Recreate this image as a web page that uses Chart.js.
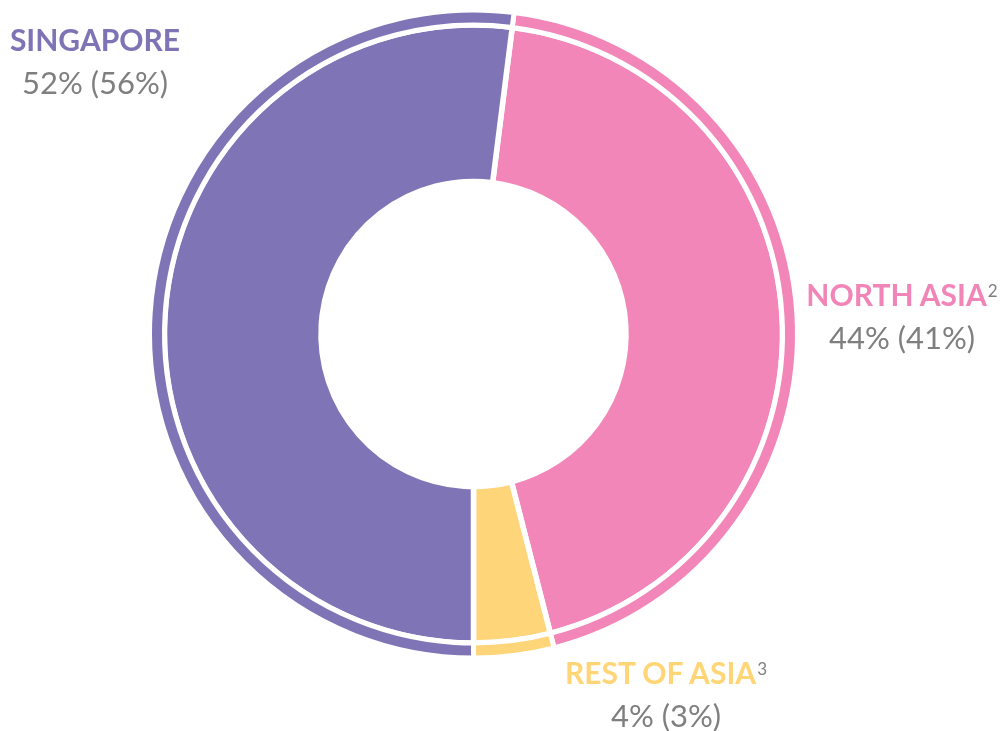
<!DOCTYPE html>
<html>
<head>
<meta charset="utf-8">
<script src="https://cdn.jsdelivr.net/npm/chart.js@4.4.1/dist/chart.umd.min.js"></script>
<style>
  body { margin: 0; background: #fff; }
  #wrap { position: relative; width: 1006px; height: 731px; }
  canvas { position: absolute; left: 0; top: 0; }
  .lbl { position: absolute; text-align: center; font-family: Lato, "Open Sans", sans-serif; white-space: nowrap; }
  .lbl .name { font-weight: 700; font-size: 30px; line-height: 43px; }
  .lbl .val { color: #7f7f7f; font-size: 31px; line-height: 43px; }
  .lbl sup { font-weight: 400; font-size: 17px; color: #7f7f7f; vertical-align: 9px; line-height: 0; margin-left: 1px; }
</style>
</head>
<body>
<div id="wrap">
  <canvas id="c" width="1006" height="731"></canvas>
  <div class="lbl" style="left:-5px; top:18px; width:200px;">
    <div class="name" style="color:#7e73b5;">SINGAPORE</div>
    <div class="val">52% (56%)</div>
  </div>
  <div class="lbl" style="left:802px; top:273px; width:200px;">
    <div class="name" style="color:#f285b7;">NORTH ASIA<sup>2</sup></div>
    <div class="val">44% (41%)</div>
  </div>
  <div class="lbl" style="left:556px; top:651px; width:220px;">
    <div class="name" style="color:#ffd576;">REST OF ASIA<sup>3</sup></div>
    <div class="val">4% (3%)</div>
  </div>
</div>
<script>
// Regions, clockwise from just right of the top
const regions = ["NORTH ASIA", "REST OF ASIA", "SINGAPORE"];
const shareNow = [44, 4, 52];
const sharePrev = [41, 3, 56];
const colors = ["#f286b8", "#ffd57a", "#7f74b6"];

new Chart(document.getElementById("c"), {
  type: "doughnut",
  data: {
    labels: regions,
    datasets: [
      {
        // thin outer ring
        data: shareNow,
        backgroundColor: colors,
        borderColor: "#ffffff",
        borderWidth: 5,
        weight: 15,
      },
      {
        data: shareNow,
        backgroundColor: colors,
        borderColor: "#ffffff",
        borderWidth: 5.5,
        weight: 156.5,
      },
    ],
  },
  options: {
    responsive: false,
    animation: false,
    rotation: 7.2,
    radius: 324,
    cutout: "47.07%",
    layout: { padding: { left: 0, right: 59, top: 0, bottom: 63 } },
    plugins: {
      legend: { display: false },
      tooltip: { enabled: false },
    },
  },
});
</script>
</body>
</html>
